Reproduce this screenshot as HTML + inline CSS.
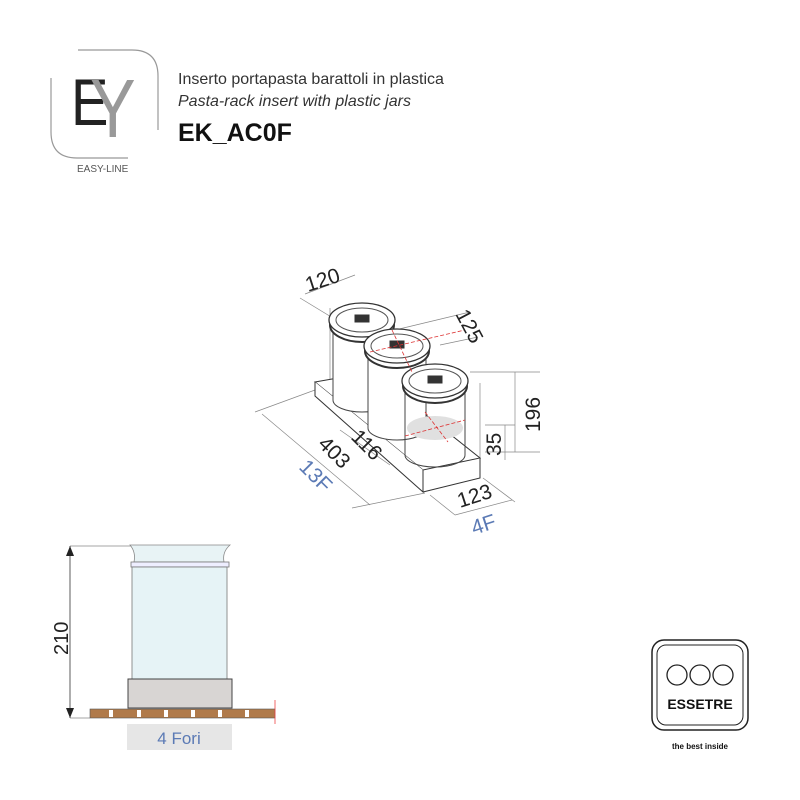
<!DOCTYPE html>
<html><head><meta charset="utf-8"><style>
html,body{margin:0;padding:0;background:#fff;width:800px;height:800px;overflow:hidden}
svg{display:block}
text{font-family:"Liberation Sans",sans-serif}
</style></head><body>
<svg width="800" height="800" viewBox="0 0 800 800" xmlns="http://www.w3.org/2000/svg">
<!-- EY logo -->
<path d="M78,50 H132 Q158,50 158,76 V130" fill="none" stroke="#999" stroke-width="1.2"/>
<path d="M51,78 V132 Q51,158 77,158 H128" fill="none" stroke="#999" stroke-width="1.2"/>
<text transform="translate(71,125) scale(0.85,1)" font-size="66" fill="#222">E</text>
<text transform="translate(90,137) scale(0.95,1.15)" font-size="72" fill="#999">Y</text>
<text x="77" y="172" font-size="10" fill="#555">EASY-LINE</text>
<text x="178" y="84" font-size="16" fill="#333">Inserto portapasta barattoli in plastica</text>
<text x="178" y="106" font-size="16" font-style="italic" fill="#333">Pasta-rack insert with plastic jars</text>
<text x="178" y="141" font-size="25" font-weight="bold" fill="#111">EK_AC0F</text>

<!-- Main isometric drawing -->
<g stroke="#333" stroke-width="1" fill="none">
 <g stroke="#888" stroke-width="0.7">
  <line x1="305" y1="294" x2="355" y2="275"/><line x1="330" y1="308" x2="330" y2="384"/>
  <line x1="300" y1="298" x2="440" y2="383"/>
  <line x1="395" y1="330" x2="470" y2="312"/><line x1="440" y1="345" x2="478" y2="337"/>
  <line x1="470" y1="372" x2="540" y2="372"/><line x1="480" y1="383" x2="480" y2="458"/>
  <line x1="485" y1="452" x2="540" y2="452"/><line x1="485" y1="425" x2="515" y2="425"/>
  <line x1="262" y1="414" x2="370" y2="505"/><line x1="255" y1="412" x2="315" y2="390"/>
  <line x1="352" y1="508" x2="425" y2="493"/>
  <line x1="430" y1="495" x2="455" y2="515"/><line x1="483" y1="478" x2="515" y2="502"/>
  <line x1="455" y1="515" x2="512" y2="500"/>
  <line x1="515" y1="372" x2="515" y2="452"/><line x1="505" y1="425" x2="505" y2="460"/>
  <line x1="340" y1="430" x2="390" y2="465"/>
 </g>
 <path d="M315,382 L372,372 L480,458 L423,470 Z" fill="#fff"/>
 <path d="M315,382 L315,396 L423,492 L423,470" fill="#fff"/>
 <path d="M423,492 L480,478 L480,458" fill="#fff"/>
 <!-- jar1 -->
 <path d="M333,330 V400 A29,12 0 0 0 391,400 V330" fill="#fff" stroke="#444"/>
 <ellipse cx="362" cy="325" rx="32" ry="17" fill="#fff" stroke="#333" stroke-width="2"/>
 <ellipse cx="362" cy="320" rx="33" ry="17" fill="#fff" stroke="#333" stroke-width="1.3"/>
 <ellipse cx="362" cy="320" rx="26" ry="12" fill="#fff" stroke="#555"/>
 <rect x="355" y="315" width="14" height="7" fill="#333"/>
 <!-- jar2 -->
 <path d="M368,356 V428 A29,12 0 0 0 426,428 V356" fill="#fff" stroke="#444"/>
 <ellipse cx="397" cy="351" rx="32" ry="17" fill="#fff" stroke="#333" stroke-width="2"/>
 <ellipse cx="397" cy="346" rx="33" ry="17" fill="#fff" stroke="#333" stroke-width="1.3"/>
 <ellipse cx="397" cy="346" rx="26" ry="12" fill="#fff" stroke="#555"/>
 <rect x="390" y="341" width="14" height="7" fill="#333"/>
 <!-- jar3 -->
 <ellipse cx="435" cy="428" rx="28" ry="12" fill="#e0e0e0" stroke="none"/>
 <path d="M405,392 V455 A30,12 0 0 0 465,455 V392" fill="none" stroke="#444"/>
 <ellipse cx="435" cy="386" rx="32" ry="17" fill="#fff" stroke="#333" stroke-width="2"/>
 <ellipse cx="435" cy="381" rx="33" ry="17" fill="#fff" stroke="#333" stroke-width="1.3"/>
 <ellipse cx="435" cy="381" rx="26" ry="12" fill="#fff" stroke="#555"/>
 <rect x="428" y="376" width="14" height="7" fill="#333"/>
 <g stroke="#d33" stroke-width="0.8" stroke-dasharray="4,2">
  <line x1="370" y1="352" x2="465" y2="330"/><line x1="392" y1="330" x2="412" y2="372"/>
  <line x1="405" y1="436" x2="465" y2="420"/><line x1="425" y1="412" x2="448" y2="442"/>
 </g>
</g>
<g font-size="21" fill="#222">
 <text transform="translate(308,292) rotate(-18)">120</text>
 <text transform="translate(455,314) rotate(62)">125</text>
 <text transform="translate(540,432) rotate(-90)">196</text>
 <text transform="translate(501,456) rotate(-90)">35</text>
 <text transform="translate(317,445) rotate(45)">403</text>
 <text transform="translate(350,438) rotate(45)">116</text>
 <text transform="translate(460,508) rotate(-18)">123</text>
 <text transform="translate(298,468) rotate(45)" fill="#5b7ab5">13F</text>
 <text transform="translate(474,535) rotate(-18)" fill="#5b7ab5">4F</text>
</g>

<!-- side view -->
<line x1="70" y1="546" x2="132" y2="546" stroke="#888" stroke-width="0.7"/>
<line x1="70" y1="718" x2="90" y2="718" stroke="#888" stroke-width="0.7"/>
<line x1="70" y1="546" x2="70" y2="718" stroke="#333" stroke-width="0.8"/>
<path d="M66,556 L70,546 L74,556 Z M66,708 L70,718 L74,708 Z" fill="#222"/>
<text transform="translate(68,655) rotate(-90)" font-size="20" fill="#222">210</text>
<path d="M130,545 Q136,552 134,562 H224 Q222,552 230,545 Z" fill="#e8f3f5" stroke="#888" stroke-width="0.8"/>
<rect x="131" y="562" width="98" height="5" fill="#eef" stroke="#777" stroke-width="0.8"/>
<rect x="132" y="567" width="95" height="112" fill="#e6f3f6" stroke="#777" stroke-width="0.8"/>
<rect x="128" y="679" width="104" height="29" fill="#d8d5d3" stroke="#444" stroke-width="1"/>
<rect x="90" y="709" width="185" height="9" fill="#b07a4a" stroke="#555" stroke-width="0.6"/>
<g fill="#fff"><rect x="109" y="710" width="4" height="7"/><rect x="137" y="710" width="4" height="7"/><rect x="164" y="710" width="4" height="7"/><rect x="191" y="710" width="4" height="7"/><rect x="218" y="710" width="4" height="7"/><rect x="245" y="710" width="4" height="7"/></g>
<line x1="275" y1="700" x2="275" y2="724" stroke="#e44" stroke-width="0.8"/>
<rect x="127" y="724" width="105" height="26" fill="#e6e6e6"/>
<text x="179" y="744" font-size="17" fill="#5b7ab5" text-anchor="middle">4 Fori</text>

<!-- Essetre logo -->
<rect x="652" y="640" width="96" height="90" rx="12" fill="#fff" stroke="#222" stroke-width="1.5"/>
<rect x="657" y="645" width="86" height="80" rx="9" fill="none" stroke="#222" stroke-width="1"/>
<circle cx="677" cy="675" r="10" fill="none" stroke="#222" stroke-width="1.3"/>
<circle cx="700" cy="675" r="10" fill="none" stroke="#222" stroke-width="1.3"/>
<circle cx="723" cy="675" r="10" fill="none" stroke="#222" stroke-width="1.3"/>
<text x="700" y="709" font-size="14" font-weight="bold" fill="#111" text-anchor="middle">ESSETRE</text>
<text x="700" y="749" font-size="8" font-weight="bold" fill="#111" text-anchor="middle">the best inside</text>
</svg>
</body></html>
